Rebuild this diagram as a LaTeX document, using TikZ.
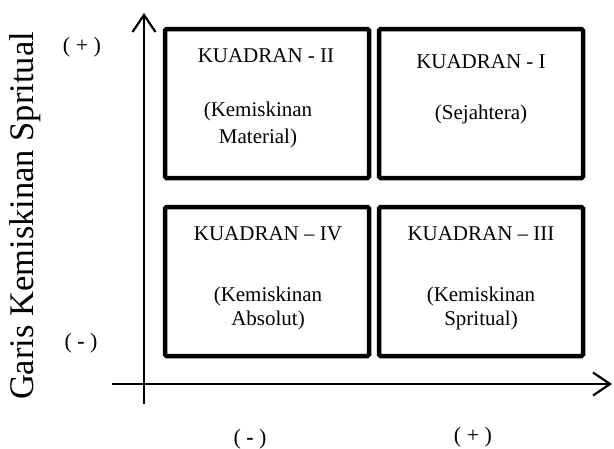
\documentclass[tikz,border=0pt]{standalone}
\usepackage{fontspec}
\setmainfont{Liberation Serif}
\usetikzlibrary{arrows.meta}
\begin{document}
\begin{tikzpicture}[x=1pt,y=-1pt,
  quad/.style={draw=black,line width=4.5pt,rounded corners=1.5pt},
  axis/.style={draw=black,line width=2.2pt,-{Straight Barb[length=17pt,width=23pt,line width=2.2pt]}},
  boxtext/.style={font=\fontsize{21}{26}\selectfont,anchor=base,inner sep=0pt},
  signtext/.style={font=\fontsize{22}{26}\selectfont,anchor=base,inner sep=0pt},
  axistitle/.style={font=\fontsize{34.5}{40}\selectfont,anchor=base,inner sep=0pt,rotate=90}]
\useasboundingbox (0,0) rectangle (614,448);

% axes
\coordinate (ybot) at (144,404);
\coordinate (ytop) at (144,13);
\coordinate (xleft) at (112,384);
\coordinate (xright) at (612,384);
\draw[axis] (ybot) -- (ytop);
\draw[axis] (xleft) -- (xright);

% quadrant boxes
\node[quad,minimum width=204pt,minimum height=149pt] (q2) at (267,103.5) {};
\node[quad,minimum width=204pt,minimum height=149pt] (q1) at (481,103.5) {};
\node[quad,minimum width=204pt,minimum height=149pt] (q4) at (267,281.5) {};
\node[quad,minimum width=204pt,minimum height=149pt] (q3) at (481,281.5) {};

% quadrant texts
\node[boxtext] (t2a) at (266,62) {KUADRAN - II};
\node[boxtext] (t2b) at (258,116) {(Kemiskinan};
\node[boxtext] (t2c) at (258,143) {Material)};

\node[boxtext] (t1a) at (481,68) {KUADRAN - I};
\node[boxtext] (t1b) at (481,119) {(Sejahtera)};

\node[boxtext] (t4a) at (268,240) {KUADRAN – IV};
\node[boxtext] (t4b) at (268,301) {(Kemiskinan};
\node[boxtext] (t4c) at (268,325) {Absolut)};

\node[boxtext] (t3a) at (481,240) {KUADRAN – III};
\node[boxtext] (t3b) at (481,301) {(Kemiskinan};
\node[boxtext] (t3c) at (481,325) {Spritual)};

% axis signs
\node[signtext] (yplus) at (82,52) {( + )};
\node[signtext] (yminus) at (81,348) {( \textbf{-} )};
\node[signtext] (xminus) at (250,444) {( \textbf{-} )};
\node[signtext] (xplus) at (473,442) {( + )};

% vertical axis title
\node[axistitle] (ytitle) at (33,216) {Garis Kemiskinan Spritual};
\end{tikzpicture}
\end{document}
